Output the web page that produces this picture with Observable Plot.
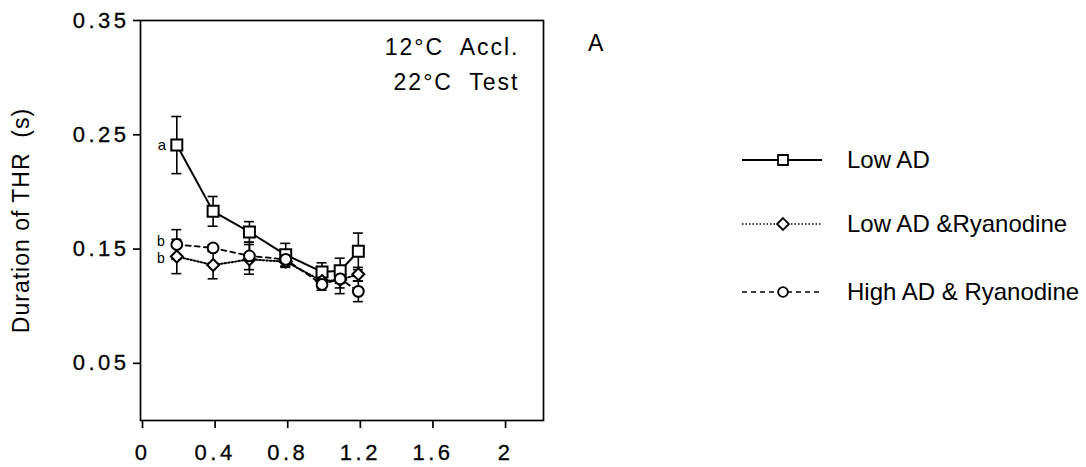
<!DOCTYPE html>
<html>
<head>
<meta charset="utf-8">
<script src="https://cdn.jsdelivr.net/npm/d3@7"></script>
<script src="https://cdn.jsdelivr.net/npm/@observablehq/plot@0.6"></script>
<style>
  html, body { margin: 0; padding: 0; background: white; }
  #wrap { position: relative; width: 1086px; height: 467px; font-family: "Liberation Sans", Arial, Helvetica, sans-serif; color: black; }
  #wrap svg text { font-family: "Liberation Sans", Arial, Helvetica, sans-serif; }
  g[aria-label$="tick label"], g[aria-label$="tick label"] text { font-size: 22px !important; letter-spacing: 3.5px; stroke: black; stroke-width: 0.3px; }
  #legend { position: absolute; left: 740px; top: 0; }
  .lrow { position: absolute; left: 0; display: flex; align-items: center; white-space: nowrap; }
  .lrow span { font-size: 24px; margin-left: 23px; }
  #panel { position: absolute; left: 588px; top: 30px; font-size: 23px; }
</style>
</head>
<body>
<div id="wrap"><div id="legend"></div><div id="panel">A</div></div>
<script>
// ---- data ----
const xValues = [0.2, 0.4, 0.6, 0.8, 1.0, 1.1, 1.2];
const seriesNames = ["Low AD", "Low AD &Ryanodine", "High AD & Ryanodine"];
const lowAD       = [0.241, 0.183, 0.165, 0.145, 0.130, 0.131, 0.148];
const lowADErr    = [0.025, 0.013, 0.009, 0.010, 0.008, 0.011, 0.016];
const lowADRy     = [0.1435, 0.136, 0.141, 0.139, 0.122, 0.123, 0.128];
const lowADRyErr  = [0.015, 0.012, 0.013, 0.005, 0.006, 0.012, 0.006];
const highADRy    = [0.154, 0.151, 0.144, 0.141, 0.119, 0.124, 0.113];
const highADRyErr = [0.013, 0.003, 0.012, 0.006, 0.005, 0.008, 0.009];
const xTicks = [0, 0.4, 0.8, 1.2, 1.6, 2];
const yTicks = [0.05, 0.15, 0.25, 0.35];
const yLabel = "Duration of THR  (s)";
const condLines = ["12°C  Accl.", "22°C  Test"];
const sigLetters = ["a", "b", "b"]; // at first x for each series

const seriesValues = [lowAD, lowADRy, highADRy];
const seriesErrs = [lowADErr, lowADRyErr, highADRyErr];
const styles = [
  {symbol: "square", r: 6.2, dash: null, width: 2, lsize: 100},
  {symbol: "diamond2", r: 5.4, dash: "1.5,2", width: 2, lsize: 90},
  {symbol: "circle", r: 5.4, dash: "5,4", width: 1.8, lsize: 75}
];

const rows = [];
seriesNames.forEach((s, i) => xValues.forEach((x, j) => rows.push({
  series: s, idx: i, x, y: seriesValues[i][j],
  lo: seriesValues[i][j] - seriesErrs[i][j], hi: seriesValues[i][j] + seriesErrs[i][j]
})));
const of = i => rows.filter(d => d.idx === i);

const labels = seriesNames.map((s, i) => ({text: sigLetters[i], x: xValues[0], y: seriesValues[i][0], idx: i}));

const fmtX = d => d === 0 ? "0" : d === 2 ? "2" : d3.format(".1f")(d);

const marks = [
  Plot.frame({stroke: "black", strokeWidth: 1.7}),
  Plot.axisX({ticks: xTicks, tickFormat: fmtX, tickSize: 8, tickPadding: 16, dx: 2, label: null, strokeWidth: 1.7}),
  Plot.axisY({ticks: yTicks, tickFormat: d3.format(".2f"), tickSize: 7, tickPadding: 4, label: null, strokeWidth: 1.7}),
  Plot.text([yLabel], {frameAnchor: "left", dx: -119, rotate: -90, textAnchor: "middle", fontSize: 23, fill: "black"}),
  Plot.text([condLines[0]], {frameAnchor: "top-right", dx: -24, dy: 18, textAnchor: "end", lineAnchor: "top", fontSize: 23, fill: "black"}),
  Plot.text([condLines[1]], {frameAnchor: "top-right", dx: -24, dy: 53, textAnchor: "end", lineAnchor: "top", fontSize: 23, fill: "black"})
];
// lines
[0, 1, 2].forEach(i => marks.push(Plot.line(of(i), {x: "x", y: "y", stroke: "black", strokeWidth: styles[i].width, strokeDasharray: styles[i].dash})));
// error bars and caps
[0, 1, 2].forEach(i => {
  marks.push(Plot.ruleX(of(i), {x: "x", y1: "lo", y2: "hi", stroke: "black", strokeWidth: 1.6}));
  marks.push(Plot.ruleY(of(i), {y: "hi", x1: "x", x2: "x", insetLeft: -5, insetRight: -5, stroke: "black", strokeWidth: 1.6}));
  marks.push(Plot.ruleY(of(i), {y: "lo", x1: "x", x2: "x", insetLeft: -5, insetRight: -5, stroke: "black", strokeWidth: 1.6}));
});
// markers
[0, 1, 2].forEach(i => marks.push(Plot.dot(of(i), {x: "x", y: "y", symbol: styles[i].symbol, r: styles[i].r, fill: "white", stroke: "black", strokeWidth: 2})));
// significance letters
marks.push(Plot.text(labels.filter(d => d.idx === 0), {x: "x", y: "y", text: "text", dx: -15, fontSize: 15, fill: "black"}));
marks.push(Plot.text(labels.filter(d => d.idx === 2), {x: "x", y: "y", text: "text", dx: -16, dy: -3, fontSize: 14, fill: "black"}));
marks.push(Plot.text(labels.filter(d => d.idx === 1), {x: "x", y: "y", text: "text", dx: -16, dy: 2, fontSize: 14, fill: "black"}));

const chart = Plot.plot({
  width: 1086, height: 467,
  marginLeft: 140, marginRight: 543, marginTop: 20, marginBottom: 47,
  x: {domain: [0, 2.22]},
  y: {domain: [0, 0.35]},
  style: {background: "white", color: "black", fontFamily: "Liberation Sans, Arial, sans-serif", fontSize: "21px"},
  marks
});
// preserve double spaces and letter spacing of the original typesetting
d3.select(chart).selectAll("text")
  .filter(function() { return this.textContent.includes("°C"); })
  .style("white-space", "pre").style("letter-spacing", "2px");
d3.select(chart).selectAll("text")
  .filter(function() { return this.textContent === yLabel; })
  .style("white-space", "pre").style("letter-spacing", "1px");
document.getElementById("wrap").prepend(chart);

// legend
const legend = document.getElementById("legend");
const legendTops = [146, 210, 278];
seriesNames.forEach((name, i) => {
  const row = document.createElement("div");
  row.className = "lrow";
  row.style.top = legendTops[i] + "px";
  const svg = d3.create("svg").attr("width", 84).attr("height", 22);
  svg.append("line").attr("x1", 2).attr("x2", 82).attr("y1", 11).attr("y2", 11)
    .attr("stroke", "black").attr("stroke-width", i === 0 ? 2 : 1.6)
    .attr("stroke-dasharray", styles[i].dash);
  const sym = {square: d3.symbolSquare, diamond2: d3.symbolDiamond2, circle: d3.symbolCircle}[styles[i].symbol];
  svg.append("path").attr("transform", "translate(43,11)")
    .attr("d", d3.symbol(sym, styles[i].lsize)())
    .attr("fill", "white").attr("stroke", "black").attr("stroke-width", 1.8);
  row.appendChild(svg.node());
  const t = document.createElement("span");
  t.textContent = name;
  row.appendChild(t);
  legend.appendChild(row);
});
</script>
</body>
</html>
